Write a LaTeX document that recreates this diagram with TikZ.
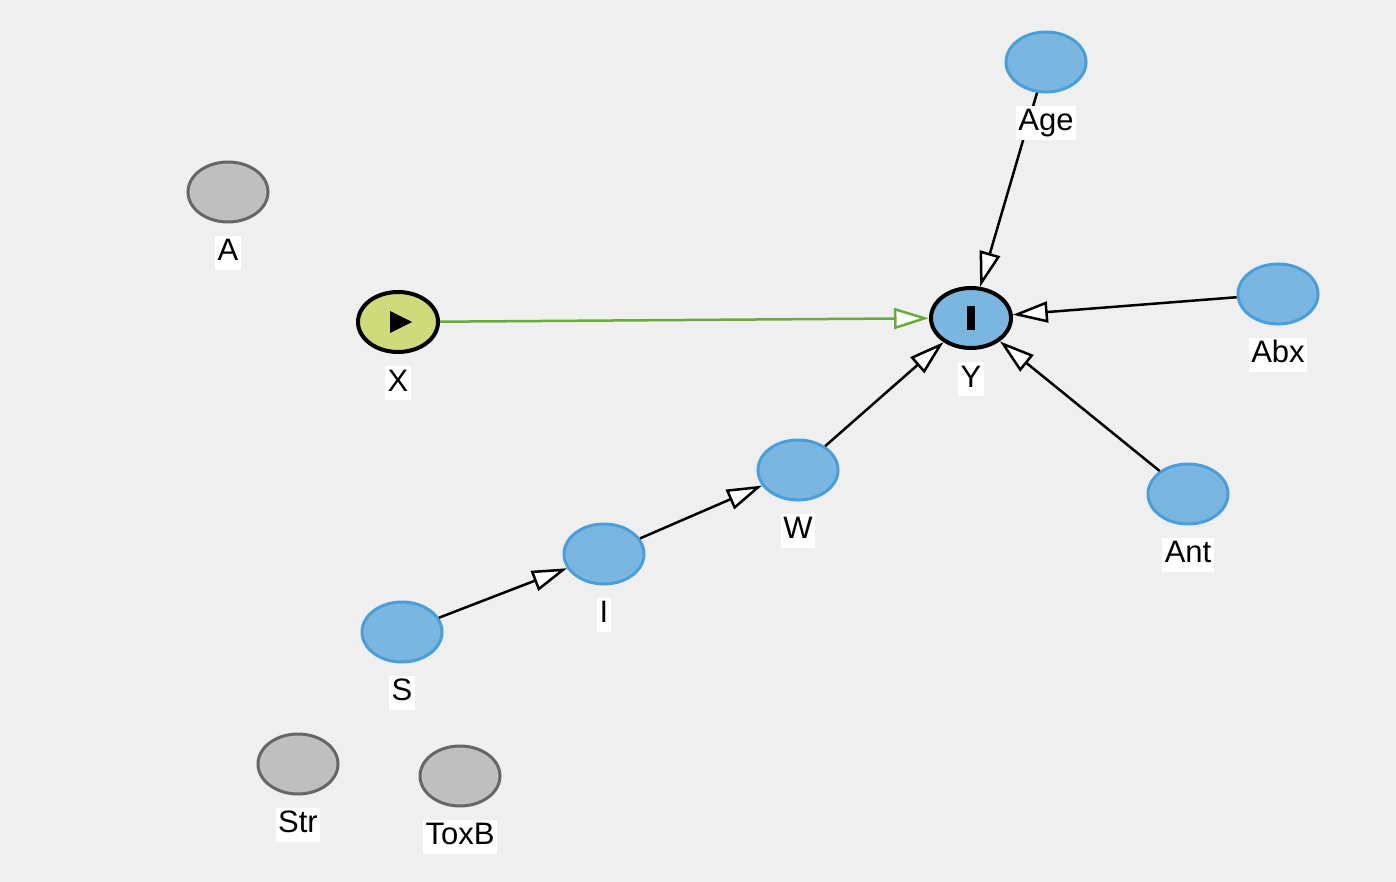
\documentclass[tikz,border=0pt]{standalone}
\usepackage{fontspec}
\setmainfont{Liberation Sans}
\usepackage{xcolor}
\usetikzlibrary{arrows.meta,positioning,shapes.geometric}
\definecolor{bgGrey}{HTML}{EFEFEF}
\definecolor{nodeBlue}{HTML}{7BB6E1}
\definecolor{lineBlue}{HTML}{4A9ED9}
\definecolor{nodeGrey}{HTML}{BFBFBF}
\definecolor{lineGrey}{HTML}{666666}
\definecolor{nodeGreen}{HTML}{CFDB7A}
\definecolor{edgeGreen}{HTML}{6AAA3A}

\begin{document}
\begin{tikzpicture}[
    x=1pt, y=-1pt,
    var/.style={ellipse, inner sep=0, minimum width=80pt, minimum height=60pt},
    latent/.style={var, fill=nodeBlue, draw=lineBlue, line width=3pt},
    other/.style={var, fill=nodeGrey, draw=lineGrey, line width=3pt},
    exposure/.style={var, fill=nodeGreen, draw=black, line width=4pt},
    outcome/.style={var, fill=nodeBlue, draw=black, line width=4pt},
    lbl/.style={fill=white, inner xsep=2.5pt, inner ysep=0, text height=25pt, text depth=9pt,
        font=\fontsize{31}{35}\selectfont, below=12pt of #1},
    causal/.style={line width=2.5pt, shorten >=0pt,
        -{Triangle[open, length=35pt, width=21pt, fill=white]}},
    ]
\fill[bgGrey] (0,0) rectangle (1396,882);
\useasboundingbox (0,0) rectangle (1396,882);

% variables
\node[latent]   (Age)  at (1046,62)  {};
\node[other]    (A)    at (228,192)  {};
\node[exposure] (X)    at (398,322)  {};
\node[outcome]  (Y)    at (971,318)  {};
\node[latent]   (Abx)  at (1278,294) {};
\node[latent]   (W)    at (798,470)  {};
\node[latent]   (Ant)  at (1188,494) {};
\node[latent]   (I)    at (604,554)  {};
\node[latent]   (S)    at (402,632)  {};
\node[other]    (Str)  at (298,764)  {};
\node[other]    (ToxB) at (460,776)  {};

% markers
\fill[black] (X.center) ++(-8,-11) -- ++(0,22) -- ++(22,-11) -- cycle;
\fill[black] (Y.center) ++(-4,-12) rectangle ++(8,24);

% edges
\draw[causal] (Age) -- (Y);
\draw[causal] (Abx) -- (Y);
\draw[causal] (Ant) -- (Y);
\draw[causal] (W) -- (Y);
\draw[causal] (I) -- (W);
\draw[causal] (S) -- (I);
\draw[causal, draw=edgeGreen] (X) -- (Y);

% labels
\node[lbl=Age]  (AgeL)  {Age};
\node[lbl=A]    (AL)    {A};
\node[lbl=X]    (XL)    {X};
\node[lbl=Y]    (YL)    {Y};
\node[lbl=Abx]  (AbxL)  {Abx};
\node[lbl=W]    (WL)    {W};
\node[lbl=Ant]  (AntL)  {Ant};
\node[lbl=I]    (IL)    {I};
\node[lbl=S]    (SL)    {S};
\node[lbl=Str]  (StrL)  {Str};
\node[lbl=ToxB] (ToxBL) {ToxB};

\end{tikzpicture}
\end{document}
